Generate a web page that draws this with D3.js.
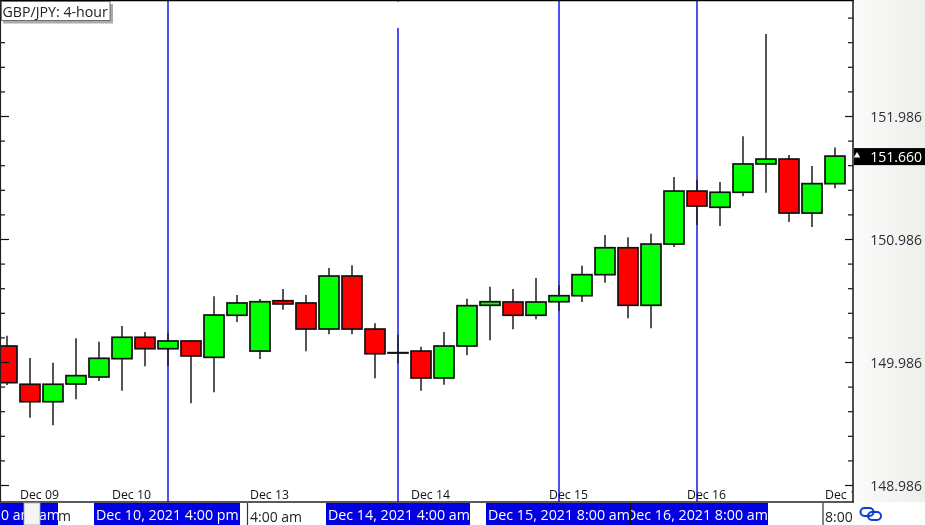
<!DOCTYPE html>
<html><head><meta charset="utf-8">
<script src="https://cdn.jsdelivr.net/npm/d3@7"></script>
<style>html,body{margin:0;padding:0;background:#fff}svg{display:block;filter:blur(0.3px)}text{font-family:"Open Sans","Noto Sans",sans-serif}</style>
</head><body><div id="chart"></div>
<script>
const title = "GBP/JPY: 4-hour";
const candleIndex = d3.range(37);
const opens  = [150.116,149.805,149.663,149.807,149.864,150.013,150.187,150.094,150.157,150.024,150.366,150.075,150.484,150.466,150.254,150.685,150.254,150.062,150.075,149.856,150.116,150.447,150.474,150.366,150.476,150.525,150.696,150.915,150.447,150.945,151.376,151.244,151.366,151.596,151.636,151.197,151.436];
const highs  = [150.200,150.019,149.980,150.179,150.151,150.279,150.230,150.219,150.157,150.520,150.531,150.498,150.579,150.531,150.750,150.772,150.301,150.208,150.110,150.230,150.501,150.598,150.579,150.669,150.610,150.769,151.019,151.000,151.029,151.490,151.468,151.449,151.821,152.653,151.669,151.579,151.729];
const lows   = [149.799,149.533,149.471,149.683,149.832,149.753,149.951,149.953,149.650,149.740,150.311,150.010,150.411,150.073,150.211,150.211,149.853,149.975,149.753,149.801,150.040,150.162,150.252,150.333,150.401,150.474,150.631,150.341,150.260,150.921,151.100,151.092,151.333,151.362,151.124,151.084,151.398];
const closes = [149.818,149.663,149.805,149.875,150.016,150.187,150.094,150.157,150.035,150.368,150.466,150.476,150.458,150.254,150.685,150.254,150.053,150.062,149.856,150.116,150.444,150.476,150.366,150.474,150.525,150.696,150.915,150.447,150.945,151.376,151.254,151.366,151.596,151.636,151.197,151.436,151.660];
const priceTicks = [148.986,149.986,150.986,151.986];
const minorStep = 0.2;
const lastPrice = 151.660;
const dateTickIndex = [1,5,11,18,24,30,36];
const dateTickLabels = ["Dec 09","Dec 10","Dec 13","Dec 14","Dec 15","Dec 16","Dec 17"];
const markerIndex = [7,17,24,30];
const markerLabels = ["Dec 10, 2021 4:00 pm","Dec 14, 2021 4:00 am","Dec 15, 2021 8:00 am","Dec 16, 2021 8:00 am"];

const W=925,H=525,plotR=853,plotB=502;
const svg=d3.select("#chart").append("svg").attr("width",W).attr("height",H);
const defs=svg.append("defs");
const g=defs.append("linearGradient").attr("id","panel");
g.append("stop").attr("offset",0).attr("stop-color","#fbfbfa");
g.append("stop").attr("offset",1).attr("stop-color","#eeeeea");
defs.append("clipPath").attr("id","plotClip").append("rect").attr("x",0).attr("y",0).attr("width",plotR).attr("height",plotB);
defs.append("clipPath").attr("id","stripClip").append("rect").attr("x",0).attr("y",plotB).attr("width",W).attr("height",H-plotB);
defs.append("clipPath").attr("id","lastBoxClip").append("rect").attr("x",631).attr("y",plotB).attr("width",137).attr("height",H-plotB);

const x=d3.scaleLinear().domain([0,36]).range([7,835]);
const y=d3.scaleLinear().domain([148.986,151.986]).range([485,116]);

svg.append("rect").attr("width",W).attr("height",H).attr("fill","#fff");
svg.append("rect").attr("x",plotR).attr("y",0).attr("width",W-plotR).attr("height",plotB).attr("fill","url(#panel)");

// marker lines
const plot=svg.append("g").attr("clip-path","url(#plotClip)");
plot.selectAll("line.marker").data(markerIndex).join("line")
  .attr("x1",d=>Math.round(x(d))).attr("x2",d=>Math.round(x(d)))
  .attr("y1",(d,i)=>i===1?28:0).attr("y2",plotB).attr("stroke","#1414ee").attr("stroke-width",1.5);
plot.append("line").attr("x1",x(17)).attr("x2",x(17)).attr("y1",0).attr("y2",2).attr("stroke","#1414ee");

// candles
const c=plot.selectAll("g.c").data(candleIndex).join("g");
c.append("line").attr("x1",i=>x(i)).attr("x2",i=>x(i)).attr("y1",i=>y(highs[i])).attr("y2",i=>y(lows[i])).attr("stroke","#1c1c1c").attr("stroke-width",1.5);
const bodyW=20;
c.append("rect").attr("x",i=>x(i)-bodyW/2).attr("width",bodyW)
  .attr("y",i=>y(Math.max(opens[i],closes[i])))
  .attr("height",i=>Math.max(0.4,Math.abs(y(opens[i])-y(closes[i]))))
  .attr("fill",i=>closes[i]<opens[i]?"#ff0000":"#00ff00")
  .attr("stroke","#111").attr("stroke-width",1.7);

// date labels
plot.selectAll("text.d").data(dateTickIndex).join("text")
  .attr("x",i=>x(i)-10).attr("y",498.5).attr("font-size",12.3).attr("fill","#111")
  .text((d,i)=>dateTickLabels[i]);

// axes ticks
const minorTicks=d3.range(148.986,153,minorStep).filter(v=>y(v)>3&&y(v)<plotB);
const majorSet=new Set(priceTicks.map(v=>v.toFixed(3)));
const minors=minorTicks.filter(v=>!majorSet.has(v.toFixed(3)));
const rightMajor=d3.axisLeft(y).tickValues(priceTicks).tickSize(8).tickFormat("");
const rightMinor=d3.axisLeft(y).tickValues(minors).tickSize(5).tickFormat("");
const leftMajor=d3.axisRight(y).tickValues(priceTicks).tickSize(8).tickFormat("");
const leftMinor=d3.axisRight(y).tickValues(minors).tickSize(4).tickFormat("");
[[rightMajor,plotR],[rightMinor,plotR],[leftMajor,1],[leftMinor,1]].forEach(([a,tx])=>{
  const ax=svg.append("g").attr("transform",`translate(${tx},0)`).call(a);
  ax.select(".domain").remove();
  ax.selectAll("line").attr("stroke","#111").attr("stroke-width",1.2);
});

// frame
svg.append("line").attr("x1",0).attr("x2",plotR+1).attr("y1",0.5).attr("y2",0.5).attr("stroke","#000").attr("stroke-width",1.5);
svg.append("line").attr("x1",0).attr("x2",plotR+1).attr("y1",plotB).attr("y2",plotB).attr("stroke","#222").attr("stroke-width",1.5);
svg.append("line").attr("x1",0.5).attr("x2",0.5).attr("y1",0).attr("y2",plotB).attr("stroke","#222").attr("stroke-width",1.2);
svg.append("line").attr("x1",plotR).attr("x2",plotR).attr("y1",0).attr("y2",plotB).attr("stroke","#222").attr("stroke-width",1.6);

// price labels
svg.selectAll("text.p").data(priceTicks).join("text")
  .attr("x",922).attr("y",d=>y(d)+5.5).attr("text-anchor","end").attr("font-size",14).attr("fill","#2b3038")
  .text(d=>d.toFixed(3));
svg.append("rect").attr("x",plotR+1).attr("y",y(lastPrice)-8).attr("width",W-plotR).attr("height",17).attr("fill","#000");
svg.append("path").attr("d",d3.symbol(d3.symbolTriangle,18)).attr("fill","#fff").attr("transform",`translate(857,${y(lastPrice)-0.5})`);
svg.append("text").attr("x",922).attr("y",y(lastPrice)+5.5).attr("text-anchor","end").attr("font-size",14).attr("fill","#fff").text(lastPrice.toFixed(3));

// title box
svg.append("rect").attr("x",3).attr("y",4).attr("width",110).attr("height",19.5).attr("fill","#aaa");
svg.append("rect").attr("x",1.5).attr("y",1.5).attr("width",108.5).attr("height",19).attr("fill","#fff").attr("stroke","#555").attr("stroke-width",0.8);
svg.append("text").attr("x",2.5).attr("y",17).attr("font-size",14.2).attr("fill","#222").text(title);

// bottom strip
const strip=svg.append("g").attr("clip-path","url(#stripClip)");
const boxes=[[-2,60],[94,146],[326,144],[486,144],[630,138]];
strip.selectAll("rect.b").data(boxes).join("rect").attr("x",d=>d[0]).attr("y",503).attr("width",d=>d[1]).attr("height",22).attr("fill","#0000e0");
strip.selectAll("text.mk").data(markerLabels).join("text")
  .attr("x",(d,i)=>[96,328,488,626][i]).attr("y",520).attr("font-size",14.25).attr("fill","#fff")
  .attr("clip-path",(d,i)=>i===3?"url(#lastBoxClip)":null).text(d=>d);
strip.append("line").attr("x1",630.5).attr("x2",630.5).attr("y1",503).attr("y2",525).attr("stroke","#111").attr("stroke-width",1);
strip.append("text").attr("x",1).attr("y",520).attr("font-size",14).attr("fill","#fff").text("0 am");
strip.append("text").attr("x",39).attr("y",520).attr("font-size",14).attr("fill","#fff").text("am");
strip.append("rect").attr("x",24).attr("y",503).attr("width",16).attr("height",22).attr("fill","#f4f4f4").attr("stroke","#aaa").attr("stroke-width",0.8);
strip.append("text").attr("x",58).attr("y",521).attr("font-size",14).attr("fill","#222").text("m");
strip.append("line").attr("x1",247.5).attr("x2",247.5).attr("y1",503).attr("y2",525).attr("stroke","#333").attr("stroke-width",1.2);
strip.append("text").attr("x",250).attr("y",522).attr("font-size",14).attr("fill","#222").text("4:00 am");
strip.append("line").attr("x1",823).attr("x2",823).attr("y1",503).attr("y2",525).attr("stroke","#333").attr("stroke-width",1.2);
strip.append("text").attr("x",825).attr("y",522).attr("font-size",14).attr("fill","#222").text("8:00");
// link icon
const icon=svg.append("g").attr("fill","none").attr("stroke","#0a3fd0").attr("stroke-width",2);
icon.append("rect").attr("x",860.5).attr("y",508).attr("width",13).attr("height",8).attr("rx",4);
icon.append("rect").attr("x",868).attr("y",512).attr("width",13).attr("height",8).attr("rx",4);
</script></body></html>
